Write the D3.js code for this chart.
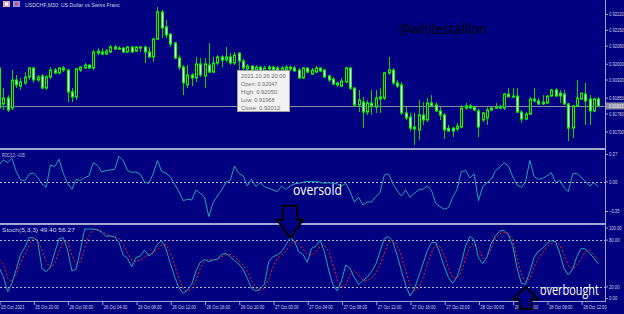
<!DOCTYPE html>
<html>
<head>
<meta charset="utf-8">
<script src="https://cdn.jsdelivr.net/npm/d3@7"></script>
<style>
  html, body { margin: 0; padding: 0; background: #000080; overflow: hidden; }
  svg { display: block; }
</style>
</head>
<body>
<div class="canvas"></div>
<script>
// USDCHF M30 bars, 25 Oct 16:00 -> 28 Oct 14:00
const open = [
  0.91981, 0.91822, 0.91848, 0.91804, 0.91928, 0.91901, 0.91915, 0.91941, 0.91981, 0.91928,
  0.91946, 0.91892, 0.91941, 0.91972, 0.91959, 0.91981, 0.91972, 0.91875, 0.91853, 0.91972,
  0.91981, 0.91994, 0.91981, 0.92047, 0.92052, 0.92043, 0.92052, 0.92074, 0.92069, 0.92069,
  0.92052, 0.92074, 0.92056, 0.92069, 0.92074, 0.92052, 0.92030, 0.92109, 0.92229, 0.92163,
  0.92131, 0.92092, 0.92025, 0.91985, 0.91906, 0.91950, 0.91937, 0.91999, 0.91946, 0.91994,
  0.91963, 0.92003, 0.92030, 0.92016, 0.92030, 0.92003, 0.92047, 0.92012, 0.91977, 0.91990,
  0.91972, 0.91985, 0.91968, 0.91977, 0.91985, 0.91981, 0.91968, 0.91972, 0.91985, 0.91981,
  0.91972, 0.91937, 0.91981, 0.91954, 0.91963, 0.91981, 0.91972, 0.91946, 0.91932, 0.91915,
  0.91901, 0.91919, 0.91981, 0.91892, 0.91817, 0.91830, 0.91786, 0.91826, 0.91808, 0.91844,
  0.91848, 0.91959, 0.91972, 0.91915, 0.91906, 0.91782, 0.91764, 0.91720, 0.91707, 0.91773,
  0.91751, 0.91826, 0.91817, 0.91791, 0.91773, 0.91715, 0.91715, 0.91711, 0.91720, 0.91804,
  0.91813, 0.91808, 0.91791, 0.91751, 0.91760, 0.91795, 0.91808, 0.91808, 0.91804, 0.91866,
  0.91857, 0.91857, 0.91786, 0.91755, 0.91777, 0.91844, 0.91835, 0.91830, 0.91826, 0.91857,
  0.91884, 0.91870, 0.91866, 0.91822, 0.91715, 0.91813, 0.91844, 0.91866, 0.91844, 0.91791,
  0.91844
]
const high = [
  0.91994, 0.91892, 0.91861, 0.91972, 0.91950, 0.91937, 0.91963, 0.91985, 0.91985, 0.91950,
  0.91954, 0.91950, 0.91985, 0.91981, 0.91985, 0.91990, 0.91977, 0.91892, 0.91981, 0.91990,
  0.92003, 0.91999, 0.92061, 0.92069, 0.92069, 0.92065, 0.92083, 0.92083, 0.92078, 0.92074,
  0.92078, 0.92078, 0.92078, 0.92078, 0.92078, 0.92074, 0.92114, 0.92251, 0.92238, 0.92193,
  0.92136, 0.92096, 0.92038, 0.91994, 0.91994, 0.91959, 0.92030, 0.92025, 0.92025, 0.92092,
  0.92030, 0.92038, 0.92038, 0.92074, 0.92047, 0.92052, 0.92050, 0.92021, 0.91999, 0.91994,
  0.91994, 0.91990, 0.91990, 0.91994, 0.91990, 0.91990, 0.91990, 0.91994, 0.91990, 0.91990,
  0.91981, 0.91985, 0.91985, 0.91981, 0.91990, 0.91985, 0.91977, 0.91950, 0.91941, 0.91919,
  0.91937, 0.91985, 0.91985, 0.91897, 0.91884, 0.91853, 0.91839, 0.91884, 0.91884, 0.91892,
  0.91963, 0.92030, 0.91981, 0.91928, 0.91919, 0.91808, 0.91782, 0.91782, 0.91839, 0.91830,
  0.91848, 0.91861, 0.91830, 0.91808, 0.91782, 0.91729, 0.91720, 0.91738, 0.91817, 0.91826,
  0.91822, 0.91813, 0.91800, 0.91786, 0.91808, 0.91808, 0.91826, 0.91817, 0.91870, 0.91892,
  0.91892, 0.91892, 0.91795, 0.91786, 0.91853, 0.91892, 0.91848, 0.91861, 0.91861, 0.91888,
  0.91892, 0.91884, 0.91884, 0.91826, 0.91817, 0.91928, 0.91870, 0.91915, 0.91861, 0.91848,
  0.91853
]
const low = [
  0.91795, 0.91795, 0.91786, 0.91795, 0.91892, 0.91884, 0.91906, 0.91928, 0.91915, 0.91919,
  0.91888, 0.91884, 0.91932, 0.91954, 0.91954, 0.91963, 0.91830, 0.91830, 0.91839, 0.91963,
  0.91977, 0.91979, 0.91972, 0.92038, 0.92038, 0.92038, 0.92047, 0.92061, 0.92061, 0.92047,
  0.92047, 0.92047, 0.92052, 0.92052, 0.92003, 0.92025, 0.92008, 0.92105, 0.92114, 0.92114,
  0.92074, 0.92021, 0.91972, 0.91861, 0.91892, 0.91901, 0.91919, 0.91941, 0.91892, 0.91959,
  0.91959, 0.91994, 0.91985, 0.92008, 0.91994, 0.91994, 0.91968, 0.91972, 0.91963, 0.91963,
  0.91963, 0.91959, 0.91959, 0.91963, 0.91968, 0.91954, 0.91963, 0.91963, 0.91968, 0.91963,
  0.91932, 0.91932, 0.91959, 0.91950, 0.91959, 0.91963, 0.91937, 0.91919, 0.91906, 0.91897,
  0.91897, 0.91915, 0.91884, 0.91808, 0.91786, 0.91715, 0.91773, 0.91773, 0.91782, 0.91782,
  0.91839, 0.91950, 0.91906, 0.91892, 0.91773, 0.91751, 0.91702, 0.91640, 0.91662, 0.91729,
  0.91742, 0.91808, 0.91786, 0.91751, 0.91667, 0.91698, 0.91676, 0.91702, 0.91715, 0.91795,
  0.91800, 0.91791, 0.91676, 0.91742, 0.91729, 0.91791, 0.91800, 0.91800, 0.91795, 0.91853,
  0.91848, 0.91782, 0.91738, 0.91751, 0.91773, 0.91830, 0.91817, 0.91817, 0.91822, 0.91853,
  0.91853, 0.91826, 0.91817, 0.91658, 0.91671, 0.91808, 0.91839, 0.91729, 0.91729, 0.91786,
  0.91808
]
const close = [
  0.91804, 0.91848, 0.91795, 0.91928, 0.91906, 0.91919, 0.91941, 0.91981, 0.91928, 0.91941,
  0.91892, 0.91941, 0.91972, 0.91959, 0.91981, 0.91972, 0.91875, 0.91853, 0.91977, 0.91985,
  0.91994, 0.91981, 0.92052, 0.92056, 0.92043, 0.92056, 0.92074, 0.92065, 0.92065, 0.92052,
  0.92074, 0.92052, 0.92074, 0.92074, 0.92052, 0.92030, 0.92109, 0.92229, 0.92158, 0.92127,
  0.92087, 0.92025, 0.91985, 0.91915, 0.91950, 0.91937, 0.91999, 0.91950, 0.91999, 0.91963,
  0.92003, 0.92030, 0.92016, 0.92030, 0.92003, 0.92038, 0.92012, 0.91981, 0.91990, 0.91972,
  0.91985, 0.91968, 0.91981, 0.91985, 0.91972, 0.91963, 0.91981, 0.91985, 0.91977, 0.91968,
  0.91937, 0.91981, 0.91963, 0.91972, 0.91981, 0.91968, 0.91941, 0.91928, 0.91910, 0.91906,
  0.91923, 0.91981, 0.91892, 0.91817, 0.91839, 0.91786, 0.91826, 0.91813, 0.91848, 0.91853,
  0.91959, 0.91972, 0.91915, 0.91901, 0.91782, 0.91760, 0.91715, 0.91711, 0.91773, 0.91751,
  0.91826, 0.91813, 0.91791, 0.91773, 0.91707, 0.91702, 0.91702, 0.91724, 0.91804, 0.91813,
  0.91804, 0.91795, 0.91720, 0.91782, 0.91795, 0.91804, 0.91804, 0.91804, 0.91866, 0.91853,
  0.91853, 0.91786, 0.91755, 0.91777, 0.91844, 0.91835, 0.91822, 0.91822, 0.91857, 0.91884,
  0.91857, 0.91857, 0.91822, 0.91715, 0.91813, 0.91848, 0.91870, 0.91835, 0.91791, 0.91844,
  0.91813
]

// ROC(12)
const roc = [
  0.167, 0.217, 0.190, 0.233, 0.102, 0.019, 0.010, 0.076, 0.088, 0.046,
  -0.019, -0.052, 0.167, 0.151, 0.223, 0.085, -0.014, -0.072, 0.026, 0.014,
  0.043, 0.059, 0.190, 0.164, 0.098, 0.112, 0.119, 0.124, 0.253, 0.210,
  0.112, 0.095, 0.098, 0.076, -0.003, -0.014, 0.079, 0.210, 0.102, 0.085,
  0.052, -0.023, -0.095, -0.184, -0.171, -0.177, -0.079, -0.112, -0.151, -0.341,
  -0.203, -0.138, -0.079, -0.003, 0.014, 0.157, 0.085, 0.059, -0.040, 0.026,
  -0.046, -0.007, -0.046, -0.062, -0.079, -0.095, -0.040, -0.072, -0.040, -0.019,
  -0.014, -0.003, 0.003, 0.003, 0.003, -0.003, -0.014, -0.007, -0.014, -0.019,
  -0.040, -0.014, -0.095, -0.197, -0.151, -0.226, -0.197, -0.197, -0.145, -0.105,
  0.069, 0.079, -0.019, -0.085, -0.138, -0.079, -0.151, -0.112, -0.079, -0.072,
  -0.040, -0.079, -0.210, -0.243, -0.269, -0.253, -0.151, -0.072, 0.102, 0.112,
  0.040, 0.079, -0.184, -0.046, -0.007, 0.026, 0.112, 0.145, 0.190, 0.157,
  0.052, -0.029, -0.055, 0.003, 0.210, 0.052, 0.026, 0.036, 0.059, 0.092,
  -0.007, 0.014, -0.055, -0.095, 0.079, 0.085, 0.046, 0.003, -0.040, -0.007,
  -0.05
]

// Stochastic(5,3,3): main and signal
const stochK = [
  44.7, 33.1, 13.9, 24.6, 42.5, 61.8, 70.3, 83.1, 83.1, 78.8,
  43.8, 39.5, 45.5, 64.3, 81.4, 83.1, 67.3, 40.4, 42.9, 67.3,
  94.2, 94.2, 94.2, 92.9, 90.0, 84.8, 85.3, 84.0, 77.1, 60.9,
  56.6, 45.9, 57.5, 59.6, 67.3, 59.6, 64.3, 74.6, 79.3, 68.6,
  50.2, 33.1, 19.0, 11.8, 16.0, 23.3, 40.4, 51.5, 55.3, 52.4,
  54.5, 55.3, 61.8, 63.0, 58.8, 53.6, 49.4, 42.5, 31.0, 18.2,
  14.7, 17.3, 23.7, 52.4, 58.8, 60.9, 65.2, 73.7, 83.1, 78.8,
  65.2, 61.8, 51.5, 69.4, 72.0, 80.1, 65.2, 41.7, 22.4, 15.2,
  27.6, 48.1, 43.8, 31.8, 23.3, 28.0, 32.3, 39.5, 48.9, 65.2,
  82.3, 84.4, 78.0, 60.9, 40.4, 22.4, 8.3, 16.9, 33.1, 48.9,
  66.0, 76.7, 77.1, 63.0, 45.9, 31.8, 24.6, 33.1, 50.2, 72.9,
  84.8, 80.1, 57.5, 49.8, 58.8, 75.9, 85.7, 91.7, 92.5, 86.5,
  72.9, 44.7, 24.6, 23.3, 39.5, 57.9, 66.0, 69.4, 75.9, 79.3,
  78.0, 63.0, 43.8, 35.3, 42.9, 58.8, 69.4, 68.6, 63.0, 56.6,
  49.40
]
const stochD = [
  55.3, 48.9, 31.0, 27.6, 35.3, 51.5, 61.8, 73.7, 81.4, 80.1,
  67.3, 52.4, 43.8, 50.2, 65.2, 78.8, 78.0, 60.9, 48.9, 52.4,
  69.4, 85.7, 94.2, 93.8, 91.7, 87.4, 85.7, 84.4, 82.3, 74.6,
  63.0, 54.5, 52.4, 54.5, 58.8, 62.2, 63.5, 67.3, 73.7, 74.6,
  64.3, 48.1, 31.0, 18.2, 13.9, 17.3, 28.8, 43.8, 52.4, 55.3,
  54.5, 55.8, 58.8, 60.9, 61.8, 57.9, 53.2, 48.1, 39.5, 27.6,
  18.2, 15.6, 18.2, 31.0, 45.9, 56.6, 60.9, 66.0, 73.7, 78.8,
  75.9, 68.6, 61.8, 60.9, 65.2, 71.6, 73.7, 65.2, 48.1, 28.8,
  20.3, 22.4, 35.3, 40.4, 35.3, 28.8, 27.6, 31.8, 37.4, 48.1,
  63.0, 77.1, 80.1, 73.7, 58.8, 40.4, 23.3, 14.7, 18.2, 31.0,
  48.1, 64.3, 73.7, 71.6, 60.9, 43.8, 31.8, 31.0, 39.5, 56.6,
  71.6, 75.9, 70.3, 56.6, 57.5, 68.6, 82.3, 88.7, 90.0, 88.7,
  80.1, 56.6, 35.3, 26.7, 30.1, 45.9, 56.6, 64.3, 71.6, 75.9,
  78.0, 73.7, 60.9, 47.2, 42.9, 48.1, 56.6, 65.2, 67.3, 60.0,
  56.27
]

const priceTicks = [0.9222, 0.9215, 0.9208, 0.9200, 0.9193, 0.9185, 0.9178, 0.9170]
const rocTicks = [0.27, 0, -0.35]
const rocLevel = 0
const stochTicks = [100, 80, 20, 0]
const stochLevels = [80, 20]
const tickBars = [0, 8, 16, 24, 32, 40, 48, 56, 64, 72, 80, 88, 96, 104, 112, 120, 128, 136]
const tickLabels = ['25 Oct 2021', '25 Oct 20:00', '26 Oct 00:00', '26 Oct 04:00', '26 Oct 08:00',
  '26 Oct 12:00', '26 Oct 16:00', '26 Oct 20:00', '27 Oct 00:00', '27 Oct 04:00', '27 Oct 08:00',
  '27 Oct 12:00', '27 Oct 16:00', '27 Oct 20:00', '28 Oct 00:00', '28 Oct 04:00', '28 Oct 08:00',
  '28 Oct 12:00']
const lastPrice = 0.91813
const tooltipBar = 56
const tooltipLines = ['2021.10.26 20:00', 'Open: 0.92047', 'High: 0.92050', 'Low: 0.91968', 'Close: 0.92012']
const peakBar = 68
const troughBar = 123

// Layout
const width = 624
const height = 314
const plotRight = 606
const navy = '#000080'
const frame = '#a4a4d4'
const axisText = '#d4d4e4'
const tinyFont = 'Liberation Sans, Arial, sans-serif'

// squeeze a text horizontally to a given width (keeps its real box narrow)
const squeeze = (sel, w) => {
  const tx = +sel.attr('x') || 0
  const ty = +sel.attr('y') || 0
  const k = w / sel.node().getComputedTextLength()
  sel.attr('x', 0).attr('y', 0).attr('transform', `translate(${tx},${ty}) scale(${k},1)`)
  return sel
}

const svg = d3.select('.canvas')
  .append('svg')
  .attr('width', width)
  .attr('height', height)

svg.append('rect').attr('width', width).attr('height', height).attr('fill', navy)

// Scales
const x = d3.scaleLinear().domain([0, 140]).range([-0.9, 598.3])
const yPrice = d3.scaleLinear().domain([0.9170, 0.9222]).range([131.5, 14])
const yRoc = d3.scaleLinear().domain([-0.35, 0.27]).range([217.5, 154.5])
const yStoch = d3.scaleLinear().domain([0, 100]).range([302.5, 224.5])
const px = i => Math.round(x(i)) + 0.5

// Clip regions for the three windows
const defs = svg.append('defs')
const clip = (id, y0, h) => defs.append('clipPath').attr('id', id)
  .append('rect').attr('x', 0).attr('y', y0).attr('width', plotRight).attr('height', h)
clip('clipMain', 0, 147)
clip('clipRoc', 151, 72)
clip('clipStoch', 226, 75.5)

const mainG = svg.append('g').attr('clip-path', 'url(#clipMain)')
const rocG = svg.append('g').attr('clip-path', 'url(#clipRoc)')
const stochG = svg.append('g').attr('clip-path', 'url(#clipStoch)')

// Frames
svg.append('rect').attr('x', 0).attr('y', 148).attr('width', plotRight).attr('height', 2).attr('fill', frame)
svg.append('rect').attr('x', 0).attr('y', 223).attr('width', plotRight).attr('height', 2).attr('fill', frame)
svg.append('line').attr('x1', 0).attr('x2', plotRight).attr('y1', 301.5).attr('y2', 301.5).attr('stroke', frame)
svg.append('line').attr('x1', plotRight - 0.5).attr('x2', plotRight - 0.5).attr('y1', 0).attr('y2', 302).attr('stroke', frame)

// Bid line
mainG.append('line')
  .attr('x1', 0).attr('x2', plotRight)
  .attr('y1', Math.round(yPrice(lastPrice)) + 0.5).attr('y2', Math.round(yPrice(lastPrice)) + 0.5)
  .attr('stroke', '#8a8aa0')

// Candles
const candles = open.map((o, i) => ({ i, o, h: high[i], l: low[i], c: close[i] }))

mainG.selectAll('line.wick')
  .data(candles)
  .enter()
  .append('line')
  .attr('class', 'wick')
  .attr('x1', d => px(d.i)).attr('x2', d => px(d.i))
  .attr('y1', d => yPrice(d.h)).attr('y2', d => yPrice(d.l))
  .attr('stroke', '#00d800')

mainG.selectAll('rect.body')
  .data(candles)
  .enter()
  .append('rect')
  .attr('class', 'body')
  .attr('x', d => px(d.i) - 1)
  .attr('width', 2)
  .attr('y', d => yPrice(Math.max(d.o, d.c)))
  .attr('height', d => Math.max(1, yPrice(Math.min(d.o, d.c)) - yPrice(Math.max(d.o, d.c))))
  .attr('fill', d => d.c < d.o ? '#ffffff' : '#001a00')
  .attr('stroke', '#00ff00')
  .attr('stroke-width', 1)

// ROC window
rocG.append('line')
  .attr('x1', 0).attr('x2', plotRight)
  .attr('y1', Math.round(yRoc(rocLevel)) + 0.5).attr('y2', Math.round(yRoc(rocLevel)) + 0.5)
  .attr('stroke', '#b8b8c8').attr('stroke-dasharray', '2,2')

rocG.append('path')
  .datum(roc)
  .attr('fill', 'none')
  .attr('stroke', '#1fa7ae')
  .attr('stroke-width', 1)
  .attr('d', d3.line().x((d, i) => x(i)).y(d => yRoc(d)))

// Stochastic window
stochG.selectAll('line.level')
  .data(stochLevels)
  .enter()
  .append('line')
  .attr('x1', 0).attr('x2', plotRight)
  .attr('y1', d => Math.round(yStoch(d)) + 0.5).attr('y2', d => Math.round(yStoch(d)) + 0.5)
  .attr('stroke', '#b8b8c8').attr('stroke-dasharray', '2,2')

stochG.append('path')
  .datum(stochD)
  .attr('fill', 'none')
  .attr('stroke', '#ff2020')
  .attr('stroke-width', 1)
  .attr('stroke-dasharray', '2,2')
  .attr('d', d3.line().x((d, i) => x(i)).y(d => yStoch(d)))

stochG.append('path')
  .datum(stochK)
  .attr('fill', 'none')
  .attr('stroke', '#1fa7ae')
  .attr('stroke-width', 1)
  .attr('d', d3.line().x((d, i) => x(i)).y(d => yStoch(d)))

// Right axes
const styleAxis = (g, w) => {
  g.select('.domain').remove()
  g.attr('font-family', tinyFont).attr('font-size', 5.5)
  g.selectAll('line').attr('stroke', frame)
  g.selectAll('text').attr('fill', axisText).attr('x', 3).attr('y', 0).each(function () {
    squeeze(d3.select(this), this.textContent.length * w)
  })
}

const priceAxisGroup = svg.append('g')
  .attr('transform', `translate(${plotRight}, 0)`)
  .call(d3.axisRight(yPrice).tickValues(priceTicks).tickFormat(d3.format('.5f')).tickSize(2))
styleAxis(priceAxisGroup, 2.1)

// current price box
svg.append('rect')
  .attr('x', plotRight).attr('y', yPrice(lastPrice) - 3.5)
  .attr('width', 18).attr('height', 7)
  .attr('fill', '#8c8ca4')
squeeze(svg.append('text')
  .attr('x', plotRight + 3).attr('y', yPrice(lastPrice) + 2)
  .attr('font-family', tinyFont).attr('font-size', 5.5)
  .attr('fill', '#f0f0ff')
  .text(d3.format('.5f')(lastPrice)), 14.5)

const rocAxisGroup = svg.append('g')
  .attr('transform', `translate(${plotRight}, 0)`)
  .call(d3.axisRight(yRoc).tickValues(rocTicks).tickFormat(d3.format('.2f')).tickSize(2))
rocAxisGroup.selectAll('.tick')
  .attr('transform', d => `translate(0, ${Math.max(153.5, Math.min(211.5, yRoc(d)))})`)
styleAxis(rocAxisGroup, 2.1)

const stochAxisGroup = svg.append('g')
  .attr('transform', `translate(${plotRight}, 0)`)
  .call(d3.axisRight(yStoch).tickValues(stochTicks).tickFormat(d3.format('.2f')).tickSize(2))
stochAxisGroup.selectAll('.tick')
  .attr('transform', d => `translate(0, ${Math.max(228, Math.min(298.5, yStoch(d)))})`)
styleAxis(stochAxisGroup, 2.1)

// Time axis
const timeAxisGroup = svg.append('g')
  .attr('transform', 'translate(0, 302)')
  .call(d3.axisBottom(x).tickValues(tickBars).tickFormat((d, i) => tickLabels[i]).tickSize(3))
timeAxisGroup.select('.domain').remove()
timeAxisGroup.attr('font-family', tinyFont).attr('font-size', 5.5)
timeAxisGroup.selectAll('line').attr('stroke', frame).attr('transform', 'translate(0.5,0)')
timeAxisGroup.selectAll('text')
  .attr('fill', axisText)
  .attr('text-anchor', 'start')
  .attr('x', 1.5)
  .attr('y', 3.5)
  .each(function () { squeeze(d3.select(this), 23.5) })

// Window captions
const caption = (tx, ty, str, w) => squeeze(svg.append('text')
  .attr('x', tx).attr('y', ty)
  .attr('font-family', tinyFont).attr('font-size', 6)
  .attr('fill', axisText)
  .text(str), w)

caption(25, 6.8, 'USDCHF,M30:  US Dollar vs Swiss Franc', 95)
caption(2, 157.3, 'ROC(12) ' + d3.format('.2f')(roc[roc.length - 1]), 23)
caption(2, 231.5, 'Stoch(5,3,3) ' + d3.format('.2f')(stochK[stochK.length - 1]) + ' ' + d3.format('.2f')(stochD[stochD.length - 1]), 73)

// little chart icons top-left
svg.append('rect').attr('x', 3).attr('y', 1).attr('width', 7).attr('height', 6).attr('fill', '#e8a0b0')
svg.append('rect').attr('x', 5).attr('y', 2.5).attr('width', 3).attr('height', 3).attr('fill', '#ffffff')
svg.append('rect').attr('x', 13).attr('y', 1).attr('width', 7).attr('height', 6).attr('fill', '#9090e0')
svg.append('rect').attr('x', 15).attr('y', 2.5).attr('width', 3).attr('height', 3).attr('fill', '#e04060')

// Data window tooltip at bar 26 Oct 20:00
const tipX = Math.round(x(tooltipBar)) - 1.5
const tipY = Math.round(yPrice(low[tooltipBar])) - 0.5
const tip = svg.append('g').attr('transform', `translate(${tipX}, ${tipY})`)
tip.append('rect')
  .attr('width', 52).attr('height', 41)
  .attr('fill', '#f2f2f2').attr('stroke', '#a0a0a0')
tip.selectAll('text')
  .data(tooltipLines)
  .enter()
  .append('text')
  .attr('x', 3.5)
  .attr('y', (d, i) => 7 + i * 8.1)
  .attr('font-family', tinyFont).attr('font-size', 6)
  .attr('fill', '#6e6e6e')
  .text(d => d)
  .each(function (d) { squeeze(d3.select(this), d.length * 2.8) })

// Watermark + annotations
squeeze(svg.append('text')
  .attr('x', 399).attr('y', 34)
  .attr('font-family', 'Open Sans, sans-serif').attr('font-size', 14)
  .attr('fill', '#000000')
  .text('@whitestallion'), 88)

squeeze(svg.append('text')
  .attr('x', 293).attr('y', 194.5)
  .attr('font-family', 'Open Sans, sans-serif').attr('font-size', 14)
  .attr('fill', '#ffffff')
  .text('oversold'), 49)

squeeze(svg.append('text')
  .attr('x', 540).attr('y', 295)
  .attr('font-family', 'Open Sans, sans-serif').attr('font-size', 14)
  .attr('fill', '#ffffff')
  .text('overbought'), 59)

// Arrows anchored on the stochastic turning points
const downTip = [x(peakBar), yStoch(stochK[peakBar])]
const downArrow = [[0, 0], [-13, -18], [-7, -18], [-7, -32], [7, -32], [7, -18], [13, -18]]
svg.append('polygon')
  .attr('points', downArrow.map(p => [downTip[0] + p[0], downTip[1] + p[1]].join(',')).join(' '))
  .attr('fill', navy).attr('stroke', '#000000').attr('stroke-width', 2).attr('stroke-linejoin', 'miter')

const upTip = [x(troughBar), yStoch(stochK[troughBar]) + 2.5]
const upArrow = [[0, 0], [12.5, 12.5], [6, 12.5], [6, 22], [-6, 22], [-6, 12.5], [-12.5, 12.5]]
svg.append('polygon')
  .attr('points', upArrow.map(p => [upTip[0] + p[0], upTip[1] + p[1]].join(',')).join(' '))
  .attr('fill', navy).attr('stroke', '#000000').attr('stroke-width', 2).attr('stroke-linejoin', 'miter')
</script>
</body>
</html>
